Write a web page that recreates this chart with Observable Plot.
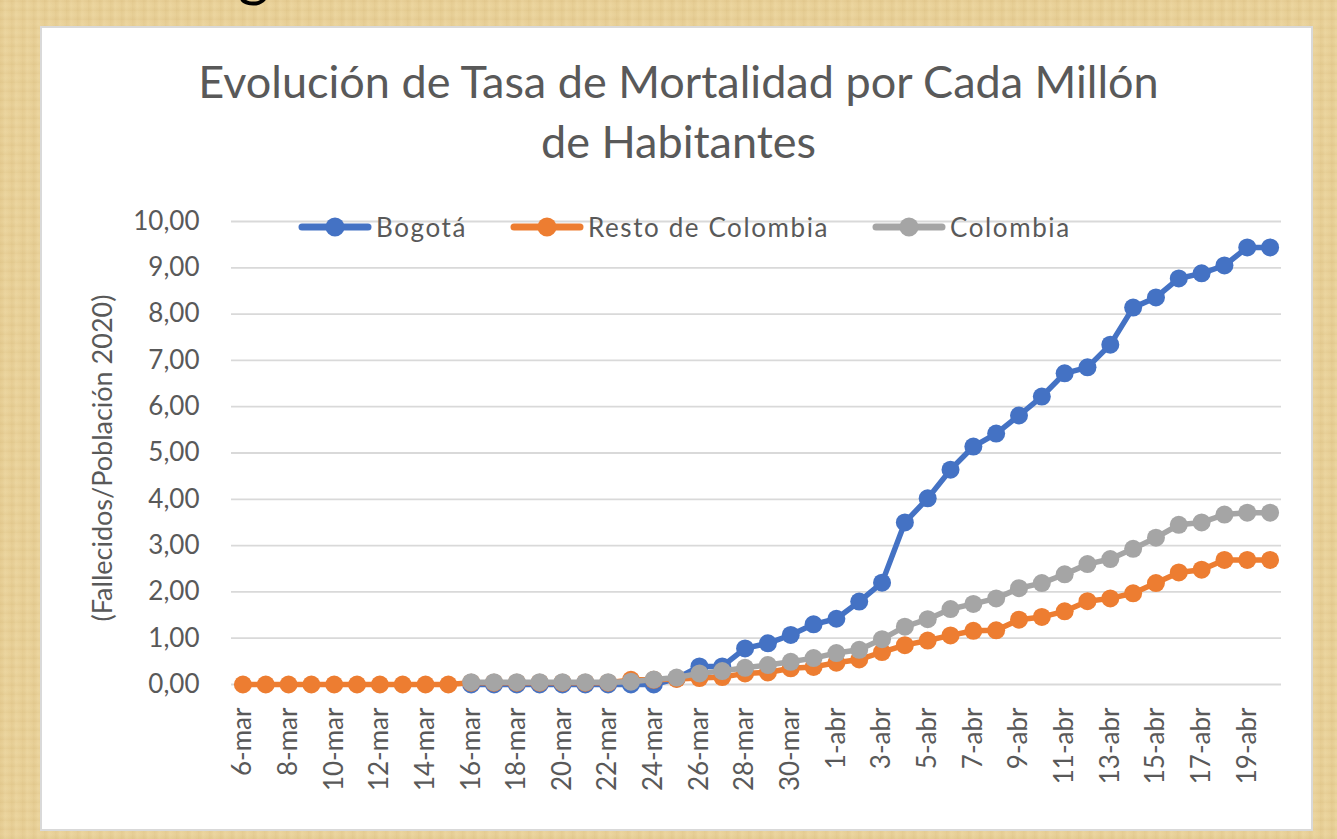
<!DOCTYPE html>
<html>
<head>
<meta charset="utf-8">
<script src="https://cdn.jsdelivr.net/npm/d3@7"></script>
<script src="https://cdn.jsdelivr.net/npm/@observablehq/plot@0.6"></script>
<style>
  html, body { margin:0; padding:0; }
  body {
    width:1337px; height:839px; position:relative; overflow:hidden;
    background-color:#e8d097;
    background-image:
      repeating-linear-gradient(90deg, rgba(190,150,80,0.10) 0px, rgba(190,150,80,0.04) 3px, rgba(255,240,200,0.10) 5px, rgba(200,160,90,0.06) 11px),
      repeating-linear-gradient(0deg, rgba(170,130,60,0.06) 0px, rgba(255,245,210,0.08) 5px, rgba(255,245,210,0.0) 9px);
    font-family: Lato, "Open Sans", sans-serif;
  }
  #frag { position:absolute; left:238px; top:-58px; font-size:60px; line-height:60px; color:#000; }
  #panel { position:absolute; left:40px; top:26px; width:1269px; height:801px; background:#fff; border:2px solid #d9d9d9; }
  #title { position:absolute; left:0; top:51px; width:1357px; text-align:center; font-size:45px; line-height:60px; color:#595959; }
  #ylabel { position:absolute; left:101px; top:458px; transform: translate(-50%,-50%) rotate(-90deg); white-space:nowrap; font-size:27px; color:#595959; }
  #legend { position:absolute; left:298px; top:212px; height:30px; display:flex; align-items:center; gap:43px; font-size:26px; color:#595959; letter-spacing:1.6px; }
  .item { display:flex; align-items:center; gap:4px; }
  #chart { position:absolute; left:0; top:0; }
</style>
</head>
<body>
<div id="frag">g</div>
<div id="panel"></div>
<div id="chart"></div>
<div id="title">Evolución de Tasa de Mortalidad por Cada Millón<br>de Habitantes</div>
<div id="ylabel">(Fallecidos/Población 2020)</div>
<div id="legend"></div>
<script>
const dates = [
  "6-mar","7-mar","8-mar","9-mar","10-mar","11-mar","12-mar","13-mar","14-mar","15-mar",
  "16-mar","17-mar","18-mar","19-mar","20-mar","21-mar","22-mar","23-mar","24-mar","25-mar",
  "26-mar","27-mar","28-mar","29-mar","30-mar","31-mar",
  "1-abr","2-abr","3-abr","4-abr","5-abr","6-abr","7-abr","8-abr","9-abr","10-abr",
  "11-abr","12-abr","13-abr","14-abr","15-abr","16-abr","17-abr","18-abr","19-abr","20-abr"
];
const seriesNames = ["Bogotá", "Resto de Colombia", "Colombia"];
const seriesColors = ["#4472c4", "#ed7d31", "#a5a5a5"];
const bogota = [
  null,null,null,null,null,null,null,null,null,null,
  0,0,0,0,0,0,0,0,0,0.13,
  0.39,0.39,0.78,0.89,1.07,1.30,
  1.42,1.79,2.20,3.50,4.02,4.64,5.14,5.42,5.81,6.22,
  6.72,6.85,7.34,8.14,8.36,8.77,8.88,9.05,9.44,9.44
];
const resto = [
  0,0,0,0,0,0,0,0,0,0,
  0.04,0.04,0.04,0.04,0.04,0.04,0.04,0.10,0.10,0.12,
  0.14,0.16,0.24,0.26,0.35,0.38,
  0.47,0.54,0.70,0.85,0.95,1.06,1.16,1.17,1.40,1.46,
  1.58,1.80,1.86,1.97,2.19,2.42,2.48,2.69,2.69,2.69
];
const colombia = [
  null,null,null,null,null,null,null,null,null,null,
  0.05,0.05,0.05,0.05,0.05,0.05,0.05,0.06,0.11,0.15,
  0.24,0.29,0.36,0.42,0.49,0.57,
  0.68,0.75,0.98,1.25,1.41,1.63,1.74,1.86,2.08,2.19,
  2.38,2.60,2.71,2.93,3.17,3.45,3.50,3.67,3.71,3.71
];
const yTicks = [0,1,2,3,4,5,6,7,8,9,10];

const allSeries = [bogota, resto, colombia];
const tables = allSeries.map(vals => dates.map((d, i) => ({date: d, value: vals[i]})));

const marks = [Plot.ruleY(yTicks, {stroke: "#d9d9d9", strokeWidth: 1.8})];
tables.forEach((t, k) => {
  marks.push(Plot.line(t, {x: "date", y: "value", stroke: seriesColors[k], strokeWidth: 5.5}));
  marks.push(Plot.dot(t.filter(r => r.value != null), {x: "date", y: "value", fill: seriesColors[k], r: 9}));
});

const chart = Plot.plot({
  width: 1337, height: 839,
  marginLeft: 231, marginRight: 56, marginTop: 221, marginBottom: 155,
  style: {background: "transparent", fontFamily: "Lato, 'Open Sans', sans-serif", fontSize: "26px", color: "#595959"},
  x: {type: "point", domain: dates, padding: 0.5, tickRotate: -90, tickSize: 0, tickPadding: 23,
      tickFormat: d => dates.indexOf(d) % 2 === 0 ? d : "", label: null},
  y: {domain: [0, 10], ticks: yTicks, tickSize: 0, tickPadding: 32,
      tickFormat: d => d.toFixed(2).replace(".", ","), label: null},
  marks
});
document.getElementById("chart").appendChild(chart);

const legend = document.getElementById("legend");
seriesNames.forEach((name, k) => {
  const item = document.createElement("div");
  item.className = "item";
  item.innerHTML = `<svg width="74" height="22"><line x1="4" y1="11" x2="70" y2="11" stroke="${seriesColors[k]}" stroke-width="7" stroke-linecap="round"/><circle cx="37" cy="11" r="9.5" fill="${seriesColors[k]}"/></svg><span>${name}</span>`;
  legend.appendChild(item);
});
</script>
</body>
</html>
